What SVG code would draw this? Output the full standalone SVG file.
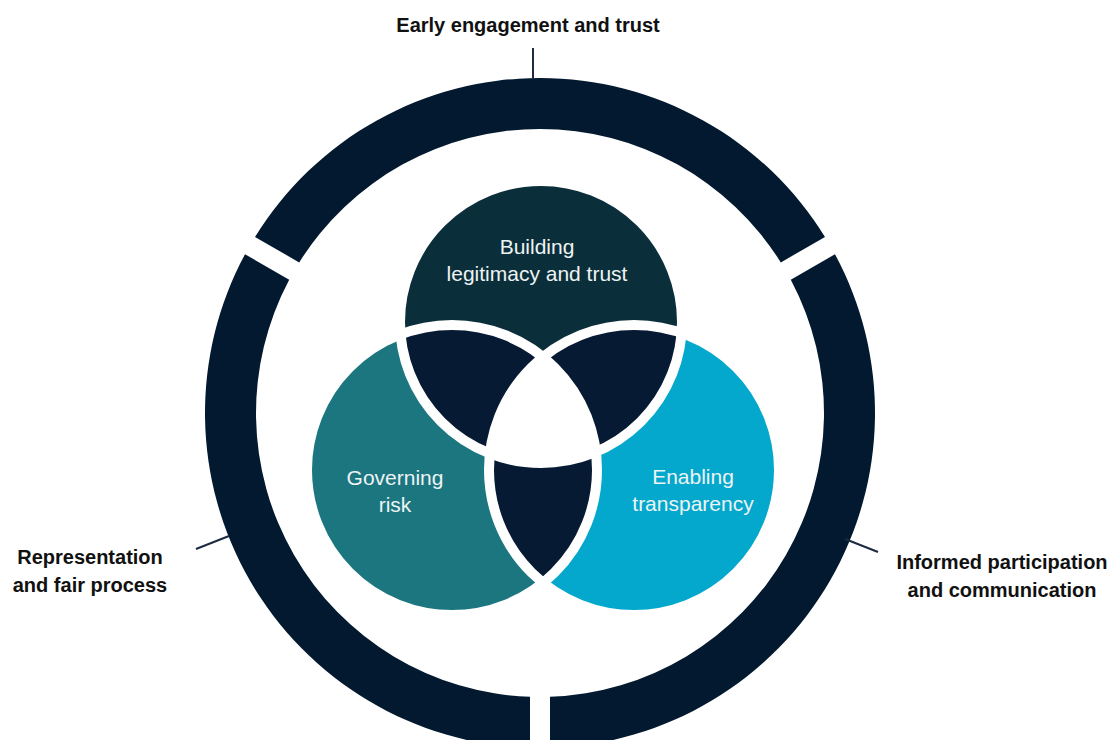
<svg xmlns="http://www.w3.org/2000/svg" width="1120" height="740" viewBox="0 0 1120 740">
  <style>
    .ring { fill: #03192f; }
    .outer-label { font-family: "Liberation Sans", Arial, sans-serif; font-weight: bold; font-size: 20px; fill: #111111; text-anchor: middle; }
    .inner-label { font-family: "Liberation Sans", Arial, sans-serif; font-size: 21px; fill: #eef3f4; text-anchor: middle; }
    .tick { stroke: #1c2b40; stroke-width: 2; fill: none; }
    .lens { fill: #071a33; }
    .outline { fill: none; stroke: #ffffff; stroke-width: 10; }
  </style>
  <defs>
    <clipPath id="clipT"><circle cx="541" cy="322" r="141"/></clipPath>
    <clipPath id="clipL"><circle cx="452" cy="470" r="145"/></clipPath>
    <clipPath id="clipR"><circle cx="634" cy="470" r="145"/></clipPath>
  </defs>
  <rect x="0" y="0" width="1120" height="740" fill="#ffffff"/>

  <!-- Outer ring segments -->
  <g id="seg-top">
    <path class="ring" d="M 255.01 236.91 A 335 335 0 0 1 824.99 236.91 L 780.79 262.42 A 284 284 0 0 0 299.21 262.42 Z"/>
    <text class="outer-label" x="528" y="32">Early engagement and trust</text>
  </g>
  <g id="seg-right">
    <path class="ring" d="M 834.99 254.23 A 335 335 0 0 1 550 747.85 L 550 696.82 A 284 284 0 0 0 790.80 279.76 Z"/>
    <text class="outer-label" x="1002" y="569">Informed participation</text>
    <text class="outer-label" x="1002" y="597">and communication</text>
  </g>
  <g id="seg-left">
    <path class="ring" d="M 530 747.85 A 335 335 0 0 1 245.01 254.23 L 289.20 279.76 A 284 284 0 0 0 530 696.82 Z"/>
    <text class="outer-label" x="90" y="564">Representation</text>
    <text class="outer-label" x="90" y="592">and fair process</text>
  </g>

  <!-- Venn circles -->
  <g id="circle-top">
    <circle cx="541" cy="322" r="141" fill="#0b2f3a"/>
    <text class="inner-label" x="537" y="254">Building</text>
    <text class="inner-label" x="537" y="281">legitimacy and trust</text>
  </g>
  <g id="circle-left">
    <circle cx="452" cy="470" r="145" fill="#1b7680"/>
    <text class="inner-label" x="395" y="485">Governing</text>
    <text class="inner-label" x="395" y="512">risk</text>
  </g>
  <g id="circle-right">
    <circle cx="634" cy="470" r="145" fill="#03a8cc"/>
    <text class="inner-label" x="693" y="484">Enabling</text>
    <text class="inner-label" x="693" y="511">transparency</text>
  </g>

  <!-- Overlaps -->
  <g id="overlaps">
    <g clip-path="url(#clipT)"><circle class="lens" cx="452" cy="470" r="145"/></g>
    <g clip-path="url(#clipT)"><circle class="lens" cx="634" cy="470" r="145"/></g>
    <g clip-path="url(#clipL)"><circle class="lens" cx="634" cy="470" r="145"/></g>
    <g clip-path="url(#clipT)"><g clip-path="url(#clipL)"><circle cx="634" cy="470" r="145" fill="#ffffff"/></g></g>
  </g>
  <g id="outlines">
    <circle class="outline" cx="541" cy="322" r="141"/>
    <circle class="outline" cx="452" cy="470" r="145"/>
    <circle class="outline" cx="634" cy="470" r="145"/>
  </g>

  <!-- Connectors (label ticks) -->
  <g id="connectors">
    <line class="tick" x1="533" y1="48" x2="533" y2="79"/>
    <line class="tick" x1="196" y1="549" x2="229" y2="536"/>
    <line class="tick" x1="845" y1="539" x2="878" y2="552"/>
  </g>
</svg>
